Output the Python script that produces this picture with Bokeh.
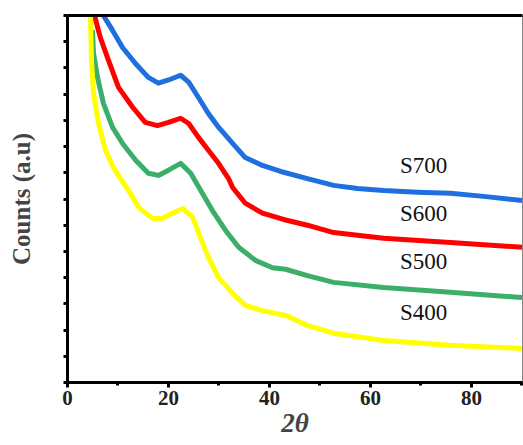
from bokeh.plotting import figure
from bokeh.models import Range1d, FixedTicker, LinearAxis, Label
from bokeh.embed import file_html
from bokeh.resources import INLINE

# 2-theta positions and counts (arbitrary units)
x_s700 = [7.1, 8.9, 10.9, 13.5, 16.0, 18.0, 20.0, 22.4, 24.0, 25.9, 27.9, 29.9, 32.7, 35.2,
          38.6, 42.8, 47.5, 52.7, 57.4, 62.6, 69.3, 75.8, 82.4, 90.0]
y_s700 = [7.0, 6.72, 6.39, 6.08, 5.82, 5.71, 5.77, 5.86, 5.73, 5.44, 5.13, 4.87, 4.56, 4.29,
          4.14, 4.01, 3.89, 3.76, 3.70, 3.66, 3.63, 3.61, 3.55, 3.47]

x_s600 = [5.35, 6.5, 8.1, 10.1, 12.9, 15.4, 17.8, 20.0, 22.4, 24.0, 25.9, 27.9, 29.9, 31.9,
          32.7, 35.2, 38.6, 42.8, 47.5, 52.7, 62.6, 75.8, 90.0]
y_s600 = [7.0, 6.58, 6.15, 5.63, 5.25, 4.96, 4.90, 4.96, 5.04, 4.94, 4.68, 4.43, 4.18, 3.89,
          3.72, 3.42, 3.23, 3.11, 3.00, 2.86, 2.75, 2.67, 2.58]

x_s500 = [4.95, 5.15, 5.94, 7.13, 8.9, 10.9, 13.5, 16.0, 18.0, 20.0, 22.4, 24.4, 26.7, 28.7,
          31.3, 33.9, 37.2, 40.6, 43.2, 47.5, 52.7, 62.6, 75.8, 90.0]
y_s500 = [6.72, 6.28, 5.82, 5.32, 4.87, 4.56, 4.24, 3.99, 3.95, 4.05, 4.18, 3.99, 3.61, 3.28,
          2.90, 2.58, 2.33, 2.19, 2.16, 2.04, 1.91, 1.81, 1.72, 1.62]

x_s400 = [4.55, 4.75, 5.15, 6.14, 7.52, 9.1, 10.5, 12.1, 14.1, 16.8, 18.8, 20.8, 22.8, 24.8,
          26.3, 27.9, 29.9, 32.7, 35.2, 38.6, 43.2, 47.5, 52.7, 62.6, 75.8, 90.0]
y_s400 = [7.0, 6.15, 5.52, 4.94, 4.43, 4.10, 3.89, 3.66, 3.34, 3.13, 3.13, 3.23, 3.32, 3.15,
          2.77, 2.39, 2.00, 1.70, 1.47, 1.37, 1.28, 1.09, 0.94, 0.80, 0.71, 0.65]

series_names = ["S700", "S600", "S500", "S400"]
label_x = [70.5, 70.5, 70.5, 70.5]
label_y = [4.14, 3.23, 2.30, 1.34]
x_ticks = [0, 20, 40, 60, 80]
x_minor = [10, 30, 50, 70, 90]
y_ticks = [0, 0.5, 1, 1.5, 2, 2.5, 3, 3.5, 4, 4.5, 5, 5.5, 6, 6.5, 7]
colors = ["#1F6FE0", "#FF0000", "#3BAF6A", "#FFFF00"]

SERIF = "'Liberation Serif'"

p = figure(width=523, height=445, output_backend="svg", toolbar_location=None,
           x_range=Range1d(0, 90.1), y_range=Range1d(0, 7),
           min_border_left=67, min_border_right=1, min_border_top=15, min_border_bottom=63)
p.background_fill_color = "white"
p.border_fill_color = "white"
p.grid.visible = False
p.outline_line_color = "#888888"
p.outline_line_width = 1

for xs, ys, c in zip([x_s700, x_s600, x_s500, x_s400],
                     [y_s700, y_s600, y_s500, y_s400], colors):
    p.line(xs, ys, line_color=c, line_width=5, line_join="round")

for name, lx, ly in zip(series_names, label_x, label_y):
    p.add_layout(Label(x=lx, y=ly, text=name, text_align="center", text_baseline="middle",
                       text_font=SERIF, text_font_size="23px", text_color="#111111"))

# x axis
xa = p.xaxis[0]
xa.ticker = FixedTicker(ticks=x_ticks, minor_ticks=x_minor)
xa.axis_line_width = 3
xa.major_tick_line_width = 3
xa.minor_tick_line_width = 3
xa.major_tick_in = 0
xa.major_tick_out = 5
xa.minor_tick_in = 0
xa.minor_tick_out = 3
xa.major_label_text_font = SERIF
xa.major_label_text_font_style = "bold"
xa.major_label_text_font_size = "21px"
xa.major_label_text_color = "#222222"
xa.major_label_standoff = 3
xa.axis_label = "2θ"
xa.axis_label_text_font = SERIF
xa.axis_label_text_font_style = "bold italic"
xa.axis_label_text_font_size = "27px"
xa.axis_label_standoff = 0

# y axis: unlabelled ticks (drawn as minor ticks so no tick texts exist)
ya = p.yaxis[0]
ya.ticker = FixedTicker(ticks=[], minor_ticks=y_ticks)
ya.axis_line_width = 3
ya.minor_tick_line_width = 3
ya.minor_tick_in = 0
ya.minor_tick_out = 4
ya.axis_label = "Counts (a.u)"
ya.axis_label_text_font = SERIF
ya.axis_label_text_font_style = "bold"
ya.axis_label_text_font_size = "25px"
ya.axis_label_standoff = 29

# top border line
top = LinearAxis(ticker=FixedTicker(ticks=[]), axis_line_width=3,
                 major_tick_line_color=None, minor_tick_line_color=None)
p.add_layout(top, "above")

open("out.html", "w").write(file_html(p, INLINE))
